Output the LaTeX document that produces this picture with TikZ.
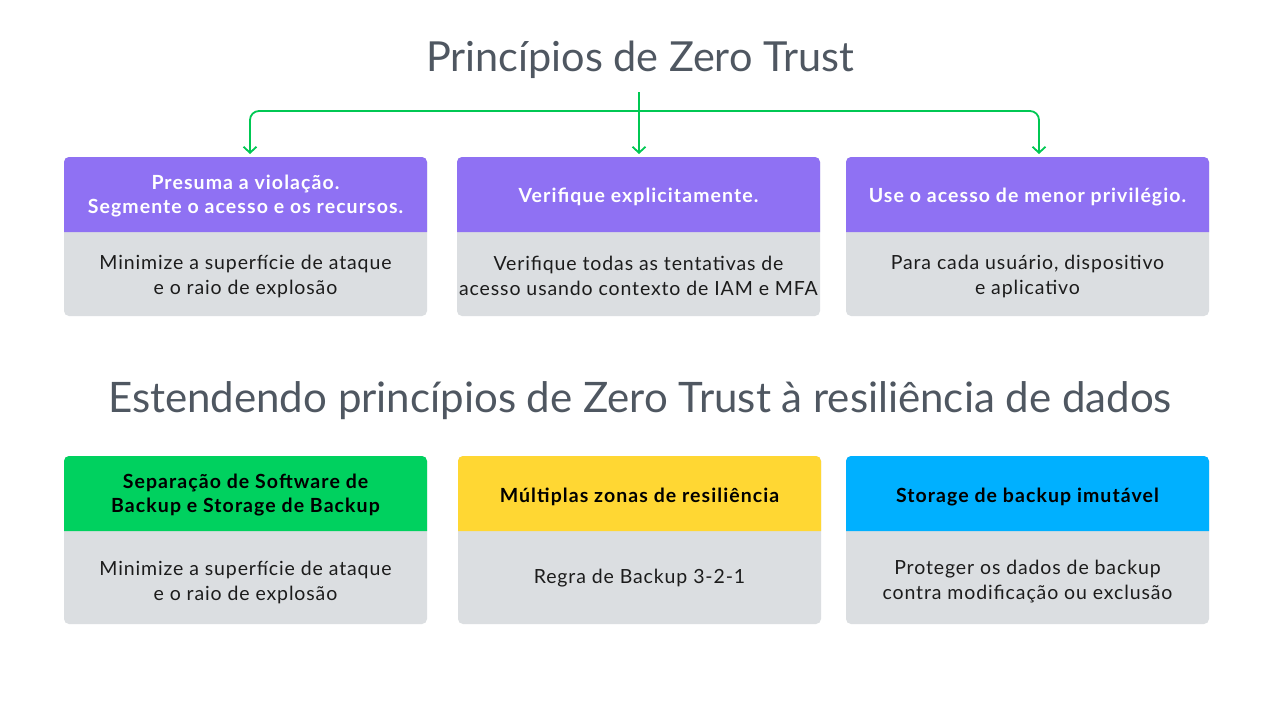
\documentclass[tikz,border=0pt]{standalone}
\usepackage{fontspec}
\setmainfont{Lato}
\newfontfamily\bodyfont[LetterSpace=4.5]{Lato}
\newfontfamily\headfont[LetterSpace=5.5]{Lato Bold}
\usetikzlibrary{arrows.meta}
\definecolor{ttl}{HTML}{4F5761}
\definecolor{purp}{HTML}{8F71F3}
\definecolor{grey}{HTML}{DBDEE1}
\definecolor{gln}{HTML}{00C853}
\definecolor{gbox}{HTML}{00D15F}
\definecolor{ybox}{HTML}{FFD733}
\definecolor{bbox}{HTML}{00B0FF}
\definecolor{txt}{HTML}{1C1C1C}
\tikzset{
  title/.style={font=\fontsize{41.4}{48}\selectfont, text=ttl, inner sep=0},
  hdtext/.style={font=\headfont\fontsize{19.5}{24}\selectfont, align=center, minimum width=363pt, inner sep=0},
  bdtext/.style={font=\bodyfont\fontsize{19.5}{25}\selectfont, text=txt, align=center, minimum width=363pt, inner sep=0},
  conn/.style={draw=gln, line width=1.8pt, -{Straight Barb[length=6pt,width=13pt,line width=1.8pt]}},
}
\newcommand{\cardbox}[5]{% x1, y1, yh, y3, header colour
  \fill[grey, rounded corners=5pt] (#1,#2) rectangle (#1+363,#4);
  \fill[#5] (#1,#3) {[rounded corners=5pt] -- (#1,#2) -- (#1+363,#2)} -- (#1+363,#3) -- cycle;
}
\begin{document}
\begin{tikzpicture}[x=1pt,y=-1pt]
\useasboundingbox (0,0) rectangle (1280,720);
\fill[white] (0,0) rectangle (1280,720);

% top title
\node[title] (t1) at (640,60) {Princípios de Zero Trust};

% top cards
\cardbox{64}{157}{232}{316}{purp}
\cardbox{457}{157}{232}{316}{purp}
\cardbox{846}{157}{232}{316}{purp}

\node[hdtext, text=white] (h1) at (245.5,196) {Presuma a violação.\\Segmente o acesso e os recursos.};
\node[hdtext, text=white] (h2) at (638.5,197) {Verifique explicitamente.};
\node[hdtext, text=white] (h3) at (1027.5,197) {Use o acesso de menor privilégio.};

\node[bdtext] (b1) at (245.5,276) {Minimize a superfície de ataque\\e o raio de explosão};
\node[bdtext] (b2) at (638.5,276) {Verifique todas as tentativas de\\acesso usando contexto de IAM e MFA};
\node[bdtext] (b3) at (1027.5,276) {Para cada usuário, dispositivo\\e aplicativo};

% connectors
\coordinate (src) at (639,92);
\coordinate (jn) at (639,111);
\draw[conn] (src) -- (639,154);
\draw[conn, rounded corners=9pt] (jn) -| (250,154);
\draw[conn, rounded corners=9pt] (jn) -| (1039,154);

% second title
\node[title, font=\fontsize{42}{48}\selectfont] (t2) at (640,401) {Estendendo princípios de Zero Trust à resiliência de dados};

% bottom cards
\cardbox{64}{456}{531}{624}{gbox}
\cardbox{458}{456}{531}{624}{ybox}
\cardbox{846}{456}{531}{624}{bbox}

\node[hdtext, text=black] (h4) at (245.5,495) {Separação de Software de\\Backup e Storage de Backup};
\node[hdtext, text=black] (h5) at (639.5,497) {Múltiplas zonas de resiliência};
\node[hdtext, text=black] (h6) at (1027.5,497) {Storage de backup imutável};

\node[bdtext] (b4) at (245.5,582) {Minimize a superfície de ataque\\e o raio de explosão};
\node[bdtext] (b5) at (639.5,578) {Regra de Backup 3-2-1};
\node[bdtext] (b6) at (1027.5,582) {Proteger os dados de backup\\contra modificação ou exclusão};
\end{tikzpicture}
\end{document}
